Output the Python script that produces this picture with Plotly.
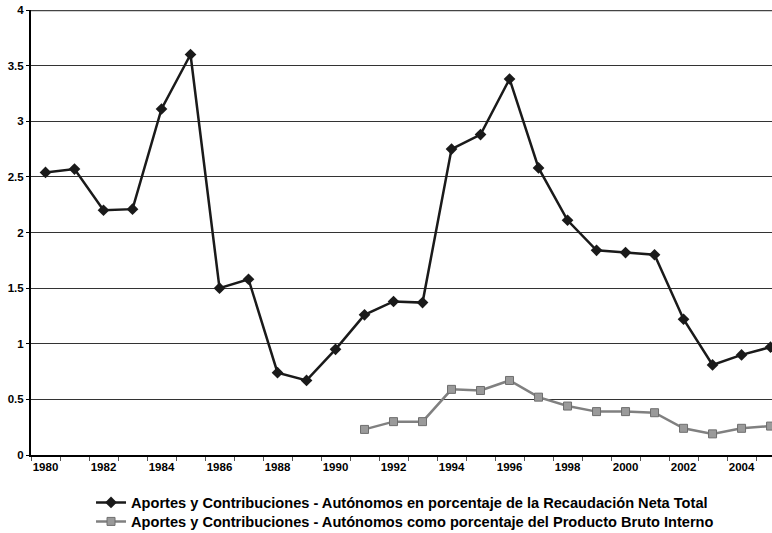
import plotly.graph_objects as go

years = list(range(1980, 2006))
recaudacion = [2.54, 2.57, 2.20, 2.21, 3.11, 3.60, 1.50, 1.58, 0.74, 0.67,
               0.95, 1.26, 1.38, 1.37, 2.75, 2.88, 3.38, 2.58, 2.11, 1.84,
               1.82, 1.80, 1.22, 0.81, 0.90, 0.97]
pbi_years = list(range(1991, 2006))
pbi = [0.23, 0.30, 0.30, 0.59, 0.58, 0.67, 0.52, 0.44, 0.39, 0.39,
       0.38, 0.24, 0.19, 0.24, 0.26]
x_tick_vals = list(range(1980, 2005, 2))
y_tick_vals = [0, 0.5, 1, 1.5, 2, 2.5, 3, 3.5, 4]

name1 = "Aportes y Contribuciones - Autónomos en porcentaje de la Recaudación Neta Total"
name2 = "Aportes y Contribuciones - Autónomos como porcentaje del Producto Bruto Interno"

fig = go.Figure()
fig.add_trace(go.Scatter(
    x=years, y=recaudacion, mode="lines+markers", name=name1,
    line=dict(color="#1a1a1a", width=2.5),
    marker=dict(symbol="diamond", size=9, color="#1a1a1a"),
    legend="legend",
))
fig.add_trace(go.Scatter(
    x=pbi_years, y=pbi, mode="lines+markers", name=name2,
    line=dict(color="#808080", width=2.5),
    marker=dict(symbol="square", size=8, color="#9a9a9a",
                line=dict(color="#6e6e6e", width=1)),
    legend="legend2",
))

fig.add_shape(type="line", xref="paper", yref="y", x0=0, x1=1, y0=4, y1=4,
              line=dict(color="#444444", width=2.5))

legend_font = dict(size=14.6, family="Liberation Sans, Arial, sans-serif",
                   color="black", weight="bold")

fig.update_layout(
    width=772, height=533,
    margin=dict(l=31, r=0, t=10, b=78, autoexpand=False),
    paper_bgcolor="white", plot_bgcolor="white",
    font=dict(family="Liberation Sans, Arial, sans-serif", color="black"),
    showlegend=True,
    legend=dict(
        orientation="v", x=0.081, xanchor="left", y=-0.0706, yanchor="top",
        font=legend_font, itemwidth=30, tracegroupgap=0,
        bgcolor="rgba(0,0,0,0)",
    ),
    legend2=dict(
        orientation="v", x=0.081, xanchor="left", y=-0.1133, yanchor="top",
        font=legend_font, itemwidth=30, tracegroupgap=0,
        bgcolor="rgba(0,0,0,0)",
    ),
    xaxis=dict(
        range=[1979.5, 2005.05], tickvals=x_tick_vals,
        ticktext=[str(v) for v in x_tick_vals],
        ticks="", showgrid=False, zeroline=False, automargin=False,
        showline=True, linecolor="black", linewidth=2,
        tickfont=dict(size=11.5, weight="bold"),
        minor=dict(tick0=1979.5, dtick=1, ticks="outside", ticklen=4,
                   tickcolor="#555555", showgrid=False),
    ),
    yaxis=dict(
        range=[0, 4], tickvals=y_tick_vals, automargin=False,
        ticks="outside", ticklen=3, tickcolor="black",
        showgrid=True, gridcolor="#333333", gridwidth=1,
        zeroline=False, showline=True, linecolor="black", linewidth=2,
        tickfont=dict(size=11.5, weight="bold"),
    ),
)

fig.write_html(
    "out.html",
    config={"displayModeBar": False},
    post_script="document.body.style.margin='0';document.body.style.overflow='hidden';",
)
